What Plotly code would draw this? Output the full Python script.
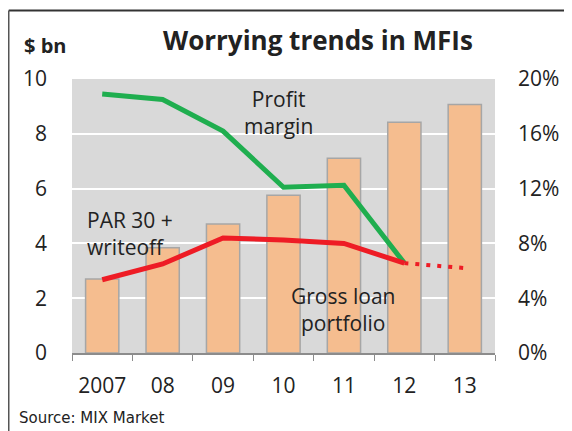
import plotly.graph_objects as go

years = ["2007", "08", "09", "10", "11", "12", "13"]
gross_loan = [2.70, 3.84, 4.71, 5.76, 7.11, 8.42, 9.07]          # $ bn
profit_margin = [18.9, 18.5, 16.2, 12.1, 12.25, 6.56]            # %, 2007-12
par30 = [5.35, 6.5, 8.4, 8.25, 8.0, 6.56]                        # %, 2007-12
par30_proj_x = ["12", "13"]
par30_proj = [6.56, 6.2]

FONT = "Open Sans"
TXT = "#222222"

# page has an 8px body margin, so the figure is drawn 8px smaller
OFF = 8
W, H = 572 - OFF, 431 - OFF
ML, MR, MT, MB = 72 - OFF, 77, 79 - OFF, 78
pw, ph = W - ML - MR, H - MT - MB


def px(x):  # page pixel -> paper x
    return (x - OFF - ML) / pw


def py(y):  # page pixel -> paper y
    return 1 - (y - OFF - MT) / ph


fig = go.Figure()

fig.add_trace(go.Bar(
    x=years, y=gross_loan,
    marker=dict(color="#f5bd8f", line=dict(color="#a6a6a6", width=1.5)),
))
fig.add_trace(go.Scatter(
    x=years[:len(profit_margin)], y=profit_margin, yaxis="y2", mode="lines",
    line=dict(color="#1fae4f", width=5),
))
fig.add_trace(go.Scatter(
    x=years[:len(par30)], y=par30, yaxis="y2", mode="lines",
    line=dict(color="#ee1c25", width=5),
))
fig.add_trace(go.Scatter(
    x=par30_proj_x, y=par30_proj, yaxis="y2", mode="lines",
    line=dict(color="#ee1c25", width=4, dash="4px,7px"),
))

# labels on the chart
fig.add_annotation(x=2.91, y=8.76, text="Profit<br>margin", showarrow=False,
                   font=dict(size=21, color=TXT, family=FONT))
fig.add_annotation(x=-0.28, y=4.36, text="PAR 30 +<br>writeoff", showarrow=False,
                   xanchor="left", align="left",
                   font=dict(size=21, color=TXT, family=FONT))
fig.add_annotation(x=3.98, y=1.6, text="Gross loan<br>portfolio", showarrow=False,
                   font=dict(size=21, color=TXT, family=FONT))

# title, unit, source
fig.add_annotation(x=px(318), y=py(40), xref="paper", yref="paper",
                   text="<b>Worrying trends in MFIs</b>", showarrow=False,
                   xanchor="center", yanchor="middle",
                   font=dict(size=26, color=TXT, family=FONT))
fig.add_annotation(x=px(22), y=py(45), xref="paper", yref="paper", text="<b>$ bn</b>",
                   xanchor="left", yanchor="middle", showarrow=False,
                   font=dict(size=20, color=TXT, family=FONT))
fig.add_annotation(x=px(17), y=py(418), xref="paper", yref="paper", text="Source: MIX Market",
                   xanchor="left", yanchor="middle", showarrow=False,
                   font=dict(size=15, color=TXT, family="DejaVu Sans"))

# border lines (top and left)
fig.add_shape(type="line", xref="paper", yref="paper",
              x0=px(8.75), x1=px(580), y0=py(10.5), y1=py(10.5),
              line=dict(color="#333333", width=2))
fig.add_shape(type="line", xref="paper", yref="paper",
              x0=px(8.75), x1=px(8.75), y0=py(10.5), y1=py(440),
              line=dict(color="#555555", width=1.5))

fig.update_layout(
    width=W, height=H,
    margin=dict(l=ML, r=MR, t=MT, b=MB),
    paper_bgcolor="white", plot_bgcolor="#d9d9d9",
    showlegend=False, bargap=0.45,
    font=dict(family=FONT, color=TXT),
    xaxis=dict(type="category", showgrid=False, showline=True, linecolor="#8c8c8c", linewidth=1.5,
               ticks="outside", tickson="boundaries", ticklen=6, tickcolor="#8c8c8c",
               tickfont=dict(size=21, color=TXT), ticklabelstandoff=13),
    yaxis=dict(range=[0, 10], dtick=2, showgrid=True, gridcolor="white", gridwidth=1.5,
               zeroline=False, tickfont=dict(size=21, color=TXT), ticklabelstandoff=24),
    yaxis2=dict(range=[0, 20], dtick=4, overlaying="y", side="right", showgrid=False,
                zeroline=False, ticksuffix="%", tickfont=dict(size=21, color=TXT),
                ticklabelstandoff=22),
)

fig.write_html("out.html")
